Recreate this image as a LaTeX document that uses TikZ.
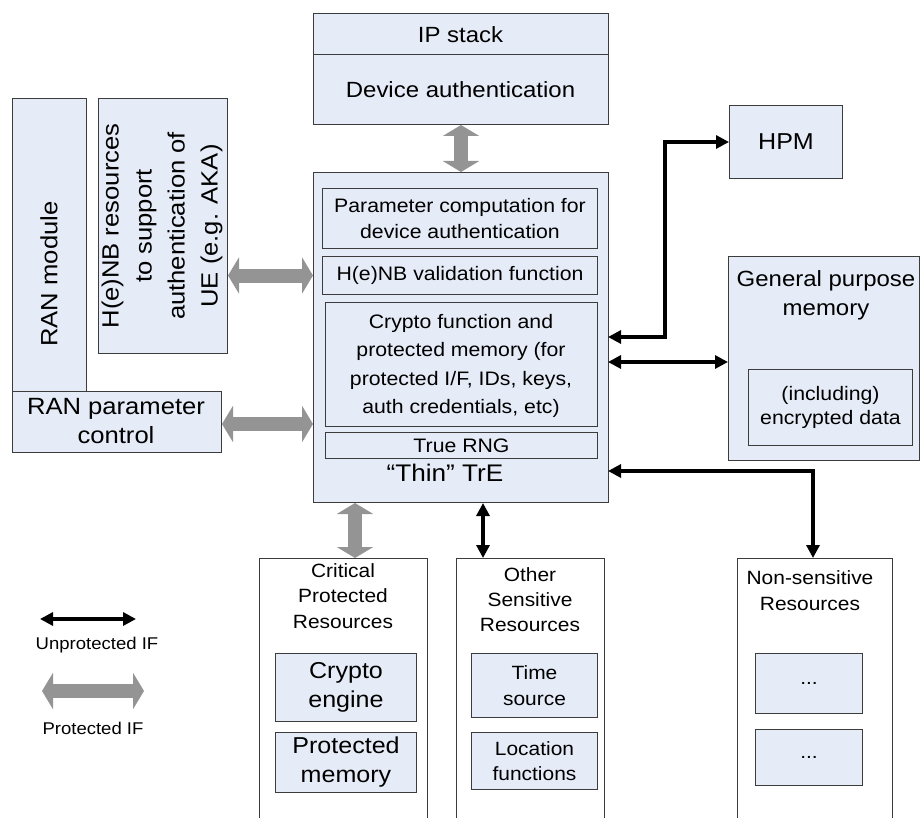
\documentclass[tikz,border=0pt]{standalone}
\usepackage{fontspec}
\setmainfont{Liberation Sans}[FakeStretch=1.09]
\usetikzlibrary{arrows.meta}
\definecolor{boxfill}{RGB}{230,236,247}
\definecolor{boxline}{RGB}{60,60,60}
\definecolor{protgray}{RGB}{148,148,148}
\newcommand\fsz[2]{\fontsize{#1}{#2}\selectfont}
\tikzset{
  box/.style={draw=boxline, fill=boxfill, line width=1pt, inner sep=0pt,
              anchor=north west, align=center},
  slot/.style={inner sep=0pt, anchor=north west},
  edgeline/.style={draw=boxline, line width=1pt},
  lbl/.style={inner sep=0pt, align=center},
  big/.style={font=\fsz{22}{30}},
  mid/.style={font=\fsz{19.5}{26}},
  unprot/.style={line width=3.2pt,
     {Triangle[length=13pt,width=13pt]}-{Triangle[length=13pt,width=13pt]}},
  prot/.style={line width=14pt, draw=protgray,
     {Triangle[length=11pt,width=36pt]}-{Triangle[length=11pt,width=36pt]}},
}
\begin{document}
\begin{tikzpicture}[x=1pt,y=-1pt]
\useasboundingbox (0,0) rectangle (920,818);

% IP stack / device authentication
\node[box, minimum width=295pt, minimum height=111pt] (dev) at (313,13) {};
\draw[edgeline] (313,55) -- (608,55);
\node[lbl, big] (ipst) at (460.5,35) {IP stack};
\node[lbl, big] (devauth) at (460.5,90) {Device authentication};

% thin TrE and its functions
\node[box, minimum width=295pt, minimum height=330pt] (tre) at (313,172) {};
\node[box, mid, minimum width=275pt, minimum height=60pt] (param) at (322,188)
  {Parameter computation for\\device authentication};
\node[box, mid, minimum width=275pt, minimum height=38pt] (valid) at (322,256)
  {H(e)NB validation function};
\node[box, minimum width=272pt, minimum height=124pt] (cryptf) at (325,302) {};
\node[lbl, font=\fsz{19.5}{28.5}] (cryptftxt) at (461,366)
  {Crypto function and\\protected memory (for\\protected I/F, IDs, keys,\\auth credentials, etc)};
\node[box, mid, minimum width=272pt, minimum height=26pt] (rng) at (325,432) {True RNG};
\node[lbl, font=\fsz{24}{28}] (tretxt) at (445,473) {``Thin'' TrE};

% RAN side
\node[box, minimum width=74pt, minimum height=354pt] (ranmod) at (12,98) {};
\node[lbl, font=\fsz{23.5}{30}, rotate=90] (ranmodtxt) at (49,274) {RAN module};
\node[box, minimum width=209pt, minimum height=61pt] (ranpc) at (12,391) {};
\node[lbl, font=\fsz{23.5}{28.5}] (ranpctxt) at (116,421) {RAN parameter\\control};
\node[box, minimum width=129pt, minimum height=255pt] (henb) at (98,98) {};
\node[lbl, font=\fsz{23.5}{33}, rotate=90] (henbtxt) at (162,226)
  {H(e)NB resources\\to support\\authentication of\\UE (e.g. AKA)};

% HPM and general purpose memory
\node[box, font=\fsz{23}{28}, minimum width=113pt, minimum height=73pt] (hpm) at (729,105) {HPM};
\node[box, minimum width=191pt, minimum height=204pt] (gpm) at (728,256) {};
\node[lbl, font=\fsz{22}{29}] (gpmtxt) at (826,295) {General purpose\\memory};
\node[box, font=\fsz{19.5}{23.5}, minimum width=164pt, minimum height=76pt] (encd) at (748,369)
  {(including)\\encrypted data};

% resource groups (open at the bottom)
\node[slot, minimum width=168pt, minimum height=260pt] (crit) at (259,558) {};
\draw[edgeline] (crit.south west) -- (crit.north west) -- (crit.north east) -- (crit.south east);
\node[lbl, font=\fsz{19.2}{25.5}] (crittxt) at (343,596) {Critical\\Protected\\Resources};
\node[box, font=\fsz{23}{29}, minimum width=141pt, minimum height=68pt] (ceng) at (275,653) {Crypto\\engine};
\node[box, font=\fsz{23}{29}, minimum width=141pt, minimum height=60pt] (pmem) at (275,732) {Protected\\memory};

\node[slot, minimum width=148pt, minimum height=260pt] (other) at (456,558) {};
\draw[edgeline] (other.south west) -- (other.north west) -- (other.north east) -- (other.south east);
\node[lbl, font=\fsz{19.2}{25}] (othertxt) at (530,600) {Other\\Sensitive\\Resources};
\node[box, font=\fsz{19.2}{25.5}, minimum width=126pt, minimum height=64pt] (tsrc) at (471,653) {Time\\source};
\node[box, font=\fsz{19.2}{25.5}, minimum width=126pt, minimum height=57pt] (locf) at (471,732) {Location\\functions};

\node[slot, minimum width=155pt, minimum height=260pt] (nons) at (737,558) {};
\draw[edgeline] (nons.south west) -- (nons.north west) -- (nons.north east) -- (nons.south east);
\node[lbl, font=\fsz{19.2}{26}] (nonstxt) at (810,591) {Non-sensitive\\Resources};
\node[box, font=\fsz{19.2}{24}, minimum width=107pt, minimum height=60pt] (dotsa) at (755,653) {...};
\node[box, font=\fsz{19.2}{24}, minimum width=107pt, minimum height=56pt] (dotsb) at (755,729) {...};

% interface ports
\coordinate (hpmport) at (608,337);
\coordinate (hpmbend) at (665,142);
\coordinate (gpmport) at (608,362);
\coordinate (nonsport) at (608,471);
\coordinate (nonsin) at (813,558);
\coordinate (critin) at (355,558);
\coordinate (otherin) at (483,558);
\coordinate (ranpcy) at (0,424);

% protected interfaces
\draw[prot] (dev.south) -- (tre.north);
\draw[prot] (henb.east |- valid.west) -- (tre.west |- valid.west);
\draw[prot] (ranpc.east |- ranpcy) -- (tre.west |- ranpcy);
\draw[prot] (tre.south -| critin) -- (critin);

% unprotected interfaces
\draw[unprot] (hpmport) -| (hpmbend) -- (hpm.west |- hpmbend);
\draw[unprot] (gpmport) -- (gpm.west |- gpmport);
\draw[unprot] (nonsport) -| (nonsin);
\draw[unprot] (tre.south -| otherin) -- (otherin);

% legend
\coordinate (lga) at (40,619);
\coordinate (lgb) at (136,619);
\coordinate (lgc) at (42,691);
\coordinate (lgd) at (144,691);
\draw[unprot] (lga) -- (lgb);
\node[lbl, font=\fsz{17}{20}] (lgutxt) at (97,645) {Unprotected IF};
\draw[prot] (lgc) -- (lgd);
\node[lbl, font=\fsz{17}{20}] (lgptxt) at (93,728) {Protected IF};
\end{tikzpicture}
\end{document}
